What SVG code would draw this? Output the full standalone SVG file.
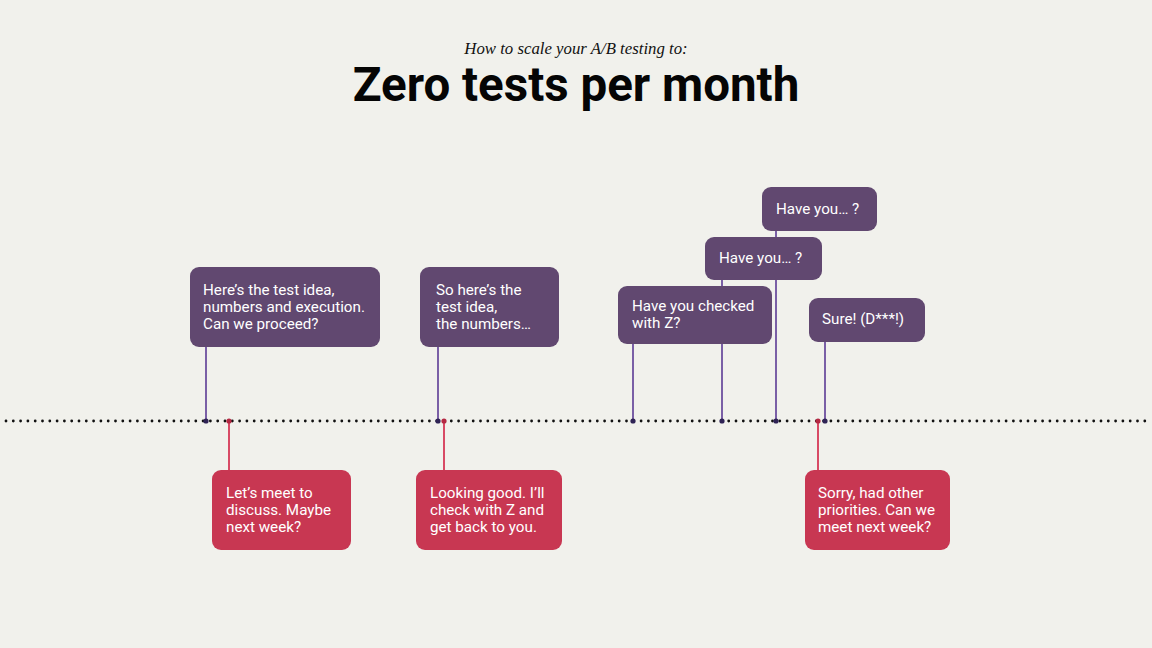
<svg xmlns="http://www.w3.org/2000/svg" width="1152" height="648" viewBox="0 0 1152 648">
<style>
.bg{fill:#f1f1ec}
.p{fill:#614870}
.r{fill:#c83752}
.t{font-family:Roboto,"Liberation Sans",sans-serif;font-size:15.2px;fill:#ffffff}
.pl{stroke:#7a5fa6;stroke-width:2;fill:none}
.rl{stroke:#d84a65;stroke-width:2;fill:none}
.pd{fill:#2f2355}
.rd{fill:#b42842}
</style>
<rect class="bg" width="1152" height="648"/>
<text x="576" y="54" text-anchor="middle" font-family="'Liberation Serif',serif" font-style="italic" font-size="16.8" fill="#111">How to scale your A/B testing to:</text>
<text x="576" y="101" text-anchor="middle" font-family="Roboto,'Liberation Sans',sans-serif" font-weight="bold" font-size="47.5" fill="#050505">Zero tests per month</text>
<g id="connectors">
<line x1="6" y1="421" x2="1152" y2="421" stroke="#111" stroke-width="2.8" stroke-linecap="round" stroke-dasharray="0 7.3"/>
<line class="pl" x1="206" y1="340" x2="206" y2="421"/>
<line class="pl" x1="438" y1="340" x2="438" y2="421"/>
<line class="pl" x1="633" y1="340" x2="633" y2="421"/>
<line class="pl" x1="722" y1="275" x2="722" y2="421"/>
<line class="pl" x1="776" y1="225" x2="776" y2="421"/>
<line class="pl" x1="825" y1="338" x2="825" y2="421"/>
<line class="rl" x1="229" y1="421" x2="229" y2="475"/>
<line class="rl" x1="444" y1="421" x2="444" y2="475"/>
<line class="rl" x1="818" y1="421" x2="818" y2="475"/>
<circle class="pd" cx="206" cy="421" r="2.6"/>
<circle class="pd" cx="438" cy="421" r="2.6"/>
<circle class="pd" cx="633" cy="421" r="2.6"/>
<circle class="pd" cx="722" cy="421" r="2.6"/>
<circle class="pd" cx="776" cy="421" r="2.6"/>
<circle class="pd" cx="825" cy="421" r="2.6"/>
<circle class="rd" cx="229" cy="421" r="2.6"/>
<circle class="rd" cx="444" cy="421" r="2.6"/>
<circle class="rd" cx="818" cy="421" r="2.6"/>
</g>
<g id="q1">
<rect class="p" x="190" y="267" width="190" height="80" rx="9"/>
<text class="t" x="203" y="295">Here’s the test idea,</text>
<text class="t" x="203" y="312">numbers and execution.</text>
<text class="t" x="203" y="329">Can we proceed?</text>
</g>
<g id="q2">
<rect class="p" x="420" y="267" width="139" height="80" rx="9"/>
<text class="t" x="436" y="295">So here’s the</text>
<text class="t" x="436" y="312">test idea,</text>
<text class="t" x="436" y="329">the numbers…</text>
</g>
<g id="q3">
<rect class="p" x="618" y="286" width="154" height="58" rx="9"/>
<text class="t" x="632" y="311">Have you checked</text>
<text class="t" x="632" y="328">with Z?</text>
</g>
<g id="q4">
<rect class="p" x="705" y="237" width="117" height="43" rx="9"/>
<text class="t" x="719" y="263">Have you… ?</text>
</g>
<g id="q5">
<rect class="p" x="762" y="187" width="115" height="44" rx="9"/>
<text class="t" x="776" y="214">Have you… ?</text>
</g>
<g id="q6">
<rect class="p" x="809" y="298" width="116" height="44" rx="9"/>
<text class="t" x="822" y="324">Sure! (D***!)</text>
</g>
<g id="a1">
<rect class="r" x="212" y="470" width="139" height="80" rx="9"/>
<text class="t" x="226" y="498">Let’s meet to</text>
<text class="t" x="226" y="515">discuss. Maybe</text>
<text class="t" x="226" y="532">next week?</text>
</g>
<g id="a2">
<rect class="r" x="416" y="470" width="146" height="80" rx="9"/>
<text class="t" x="430" y="498">Looking good. I’ll</text>
<text class="t" x="430" y="515">check with Z and</text>
<text class="t" x="430" y="532">get back to you.</text>
</g>
<g id="a3">
<rect class="r" x="805" y="470" width="145" height="80" rx="9"/>
<text class="t" x="818" y="498">Sorry, had other</text>
<text class="t" x="818" y="515">priorities. Can we</text>
<text class="t" x="818" y="532">meet next week?</text>
</g>
</svg>
